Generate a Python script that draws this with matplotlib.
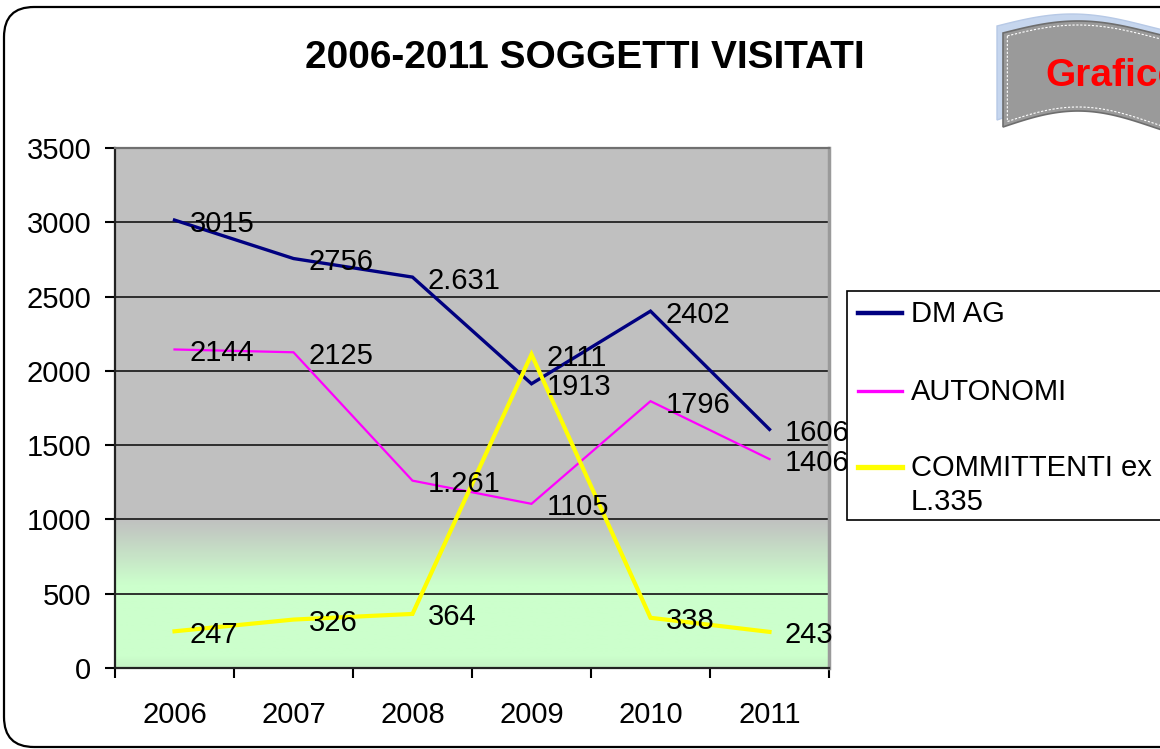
import matplotlib
matplotlib.use("Agg")
import matplotlib.pyplot as plt
import numpy as np
from matplotlib.patches import FancyBboxPatch, Rectangle, Polygon
from matplotlib.lines import Line2D
from matplotlib.transforms import IdentityTransform

# data
years = ["2006", "2007", "2008", "2009", "2010", "2011"]
dm_ag = [3015, 2756, 2631, 1913, 2402, 1606]
autonomi = [2144, 2125, 1261, 1105, 1796, 1406]
committenti = [247, 326, 364, 2111, 338, 243]
dm_ag_labels = ["3015", "2756", "2.631", "1913", "2402", "1606"]
autonomi_labels = ["2144", "2125", "1.261", "1105", "1796", "1406"]
committenti_labels = ["247", "326", "364", "2111", "338", "243"]
series_names = ["DM AG", "AUTONOMI", "COMMITTENTI ex\nL.335"]
y_ticks = [0, 500, 1000, 1500, 2000, 2500, 3000, 3500]
title = "2006-2011 SOGGETTI VISITATI"
banner_text = "Grafico"

W, H = 1160, 749
plt.rcParams['font.family'] = ['Liberation Sans', 'DejaVu Sans']

fig = plt.figure(figsize=(W / 100, H / 100), dpi=100)
ax = fig.add_axes([115 / W, 1 - 668 / H, (829 - 115) / W, (668 - 148) / H])

x = np.arange(len(years))

# background gradient: gray on top, fading to pale green below 1000
ys = np.linspace(0, 3500, 701)
gray = np.array([0.753, 0.753, 0.753])
green = np.array([0.80, 1.0, 0.80])
dark_green = np.array([0.77, 0.95, 0.77])
cols = []
for v in ys:
    if v >= 1000:
        c = gray
    elif v >= 560:
        t = (1000 - v) / 440
        c = gray * (1 - t) + green * t
    elif v >= 80:
        c = green
    else:
        t = (80 - v) / 80
        c = green * (1 - t) + dark_green * t
    cols.append(c)
grad = np.array(cols)[:, None, :]
ax.imshow(grad, origin='lower', extent=(-0.5, len(years) - 0.5, 0, 3500),
          aspect='auto', zorder=0, interpolation='bilinear')

series = [
    (dm_ag, dm_ag_labels, '#000080', 2.4),
    (autonomi, autonomi_labels, '#FF00FF', 1.6),
    (committenti, committenti_labels, '#FFFF00', 3.0),
]
for vals, labs, col, lw in series:
    ax.plot(x, vals, color=col, lw=lw, zorder=3, solid_joinstyle='miter')
for vals, labs, col, lw in series:
    for xi, v, lab in zip(x, vals, labs):
        ax.annotate(lab, (xi, v), xytext=(11, -2.5), textcoords='offset points',
                    ha='left', va='center', fontsize=21, color='black', zorder=5)

ax.set_xlim(-0.5, len(years) - 0.5)
ax.set_ylim(0, 3500)
ax.set_yticks(y_ticks)
ax.yaxis.grid(True, color='#222222', lw=1.3)
ax.set_axisbelow(True)

ax.set_xticks(np.arange(len(years) + 1) - 0.5)
ax.set_xticklabels([])
ax.set_xticks(x, minor=True)
ax.set_xticklabels(years, minor=True)
ax.tick_params(axis='x', which='major', length=7, width=1.5, direction='out')
ax.tick_params(axis='x', which='minor', length=0, pad=24, labelsize=21)
ax.tick_params(axis='y', length=7, width=1.5, pad=10, labelsize=21, direction='out')

ax.spines['left'].set_color('#222222')
ax.spines['left'].set_linewidth(1.6)
ax.spines['bottom'].set_color('#222222')
ax.spines['bottom'].set_linewidth(1.6)
ax.spines['top'].set_color('#707070')
ax.spines['top'].set_linewidth(1.6)
ax.spines['right'].set_color('#9a9a9a')
ax.spines['right'].set_linewidth(2.5)

# title
fig.text(585 / W, 1 - 58 / H, title, ha='center', va='center',
         fontsize=28, fontweight='bold')

# legend box (extends past the right edge)
def fx(px):
    return px / W

def fy(py):
    return 1 - py / H

fig.patches.append(Rectangle((fx(847), fy(520)), fx(1180) - fx(847), fy(291) - fy(520),
                             transform=fig.transFigure, facecolor='white',
                             edgecolor='black', lw=1.2, zorder=4))
entry_y = [313, 391, 467]
for (vals, labs, col, lw), name, ey in zip(series, series_names, entry_y):
    fig.lines.append(Line2D([fx(858), fx(902)], [fy(ey), fy(ey)], color=col, lw=lw + 0.8,
                            transform=fig.transFigure, zorder=5))
    fig.text(fx(911), fy(ey - 13), name, ha='left', va='top', fontsize=21,
             linespacing=1.25, zorder=6)

# outer rounded frame
frame = FancyBboxPatch((4, H - 747), 1200, 740,
                       boxstyle="round,pad=0,rounding_size=30",
                       transform=IdentityTransform(), facecolor='none',
                       edgecolor='black', lw=1.6, zorder=1)
fig.patches.append(frame)

# wavy banner in the top right corner
bx = np.linspace(1003, 1175, 80)
def top_edge(xx):
    return 33 - 12 * np.sin(np.pi * (xx - 1003) / 150)

def bot_edge(xx):
    return 127 - 16 * np.sin(np.pi * (xx - 1003) / 150)

def banner_poly(dx, dy, inset):
    xs = bx[(bx >= 1003 + inset)]
    top = [(xx + dx, H - (top_edge(xx) + inset + dy)) for xx in xs]
    bot = [(xx + dx, H - (bot_edge(xx) - inset + dy)) for xx in xs[::-1]]
    return np.array(top + bot)

fig.patches.append(Polygon(banner_poly(-6, -7, 0), closed=True, transform=IdentityTransform(),
                           facecolor='#c6d6ee', edgecolor='#b7c9e6', lw=1, zorder=2))
fig.patches.append(Polygon(banner_poly(0, 0, 0), closed=True, transform=IdentityTransform(),
                           facecolor='#9a9a9a', edgecolor='#6e6e6e', lw=1.2, zorder=3))
fig.patches.append(Polygon(banner_poly(0, 0, 4), closed=True, transform=IdentityTransform(),
                           facecolor='none', edgecolor='white', lw=0.8,
                           linestyle=(0, (2, 1.5)), zorder=3.5))
fig.text(fx(1045), fy(76), banner_text, ha='left', va='center', fontsize=28,
         fontweight='bold', color='#FF0000', zorder=6)

fig.savefig("out.png", dpi=100)
